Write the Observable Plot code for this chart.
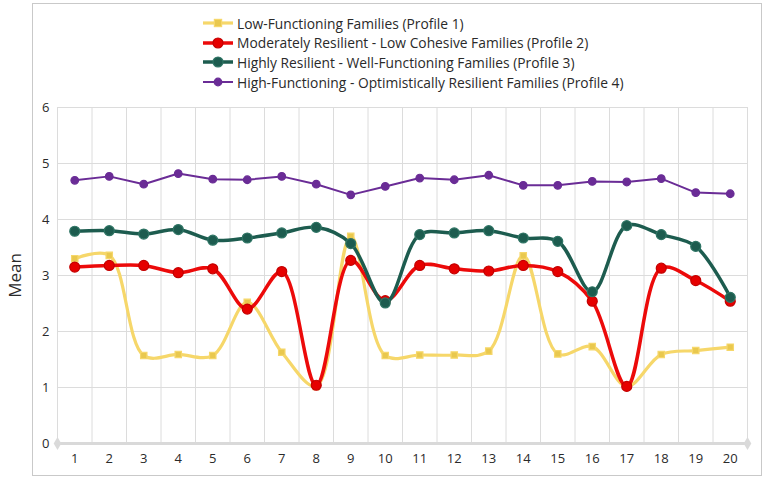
<!DOCTYPE html>
<html>
<head>
<meta charset="utf-8">
<script src="https://cdn.jsdelivr.net/npm/d3@7"></script>
<script src="https://cdn.jsdelivr.net/npm/@observablehq/plot@0.6"></script>
<style>
  body { margin: 0; background: #fff; font-family: "Open Sans", "Noto Sans", sans-serif; }
  #wrap { position: relative; width: 767px; height: 483px; overflow: hidden; }
  #frame { position: absolute; left: 32px; top: 3px; width: 730px; height: 473px; border: 1px solid #c9c9c9; box-sizing: border-box; }
  #legend { position: absolute; left: 203px; top: 13.5px; font-size: 13.8px; color: #2a2a2a; }
  .row { display: flex; align-items: center; height: 19.6px; }
  .row svg { margin-right: 4px; }
  #chart { position: absolute; left: 0; top: 0; }
  #chart g[aria-label="y-axis label"] text { font-size: 17px; }
</style>
</head>
<body>
<div id="wrap">
  <div id="frame"></div>
  <div id="chart"></div>
  <div id="legend"></div>
</div>
<script>
const items = [1,2,3,4,5,6,7,8,9,10,11,12,13,14,15,16,17,18,19,20];
const profileNames = [
  "Low-Functioning Families (Profile 1)",
  "Moderately Resilient - Low Cohesive Families (Profile 2)",
  "Highly Resilient - Well-Functioning Families (Profile 3)",
  "High-Functioning - Optimistically Resilient Families (Profile 4)"
];
const profile1 = [3.30,3.36,1.57,1.59,1.57,2.52,1.63,1.02,3.70,1.57,1.58,1.58,1.65,3.35,1.60,1.73,1.02,1.59,1.66,1.72];
const profile2 = [3.15,3.18,3.18,3.05,3.12,2.40,3.07,1.04,3.27,2.55,3.18,3.12,3.08,3.18,3.07,2.54,1.02,3.13,2.91,2.54];
const profile3 = [3.79,3.80,3.74,3.82,3.63,3.67,3.76,3.86,3.57,2.51,3.73,3.76,3.80,3.67,3.61,2.71,3.89,3.73,3.52,2.61];
const profile4 = [4.70,4.77,4.63,4.82,4.72,4.71,4.77,4.63,4.44,4.59,4.74,4.71,4.79,4.61,4.61,4.68,4.67,4.73,4.48,4.46];
const yTicks = [0,1,2,3,4,5,6];

const styles = [
  {line: "#F6D76A", fill: "#E9C84E", stroke: "#F6D76A", width: 3.2, symbol: "square", r: 3.6, curve: "catmull-rom"},
  {line: "#EC0A0A", fill: "#E60000", stroke: "#C40000", width: 3.5, symbol: "circle", r: 5, curve: "catmull-rom"},
  {line: "#1D5C4F", fill: "#1D5C4F", stroke: "#2F7565", width: 3.5, symbol: "circle", r: 5, curve: "catmull-rom"},
  {line: "#6A2C96", fill: "#6A2C96", stroke: "#6A2C96", width: 2, symbol: "circle", r: 3.8, curve: "linear"}
];
const series = [profile1, profile2, profile3, profile4];

const data = series.flatMap((vals, s) => vals.map((v, i) => ({item: items[i], value: v, s})));
const bounds = [items[0] - 0.5, ...items.map(d => d + 0.5)];

const marks = [
  Plot.ruleY(yTicks.filter(d => d > 0), {stroke: "#dcdcdc", strokeWidth: 1}),
  Plot.ruleX(bounds, {y1: 0, y2: 6, stroke: "#dcdcdc", strokeWidth: 1}),
  Plot.ruleY([0], {x1: bounds[0], x2: bounds[bounds.length - 1], stroke: "#d9d9d9", strokeWidth: 3}),
  Plot.dot([bounds[0], bounds[bounds.length - 1]], {x: d => d, y: 0, symbol: "diamond", r: 4, fill: "#dadada"})
];
series.forEach((vals, s) => {
  const st = styles[s];
  const rows = data.filter(d => d.s === s);
  marks.push(Plot.line(rows, {x: "item", y: "value", stroke: st.line, strokeWidth: st.width, curve: st.curve}));
  marks.push(Plot.dot(rows, {x: "item", y: "value", symbol: st.symbol, r: st.r, fill: st.fill, stroke: st.stroke, strokeWidth: 1.2}));
});

const chart = Plot.plot({
  width: 767,
  height: 483,
  marginLeft: 57,
  marginRight: 20,
  marginTop: 107,
  marginBottom: 40,
  style: {fontFamily: "'Open Sans', 'Noto Sans', sans-serif", fontSize: "13px", color: "#2a2a2a", background: "transparent"},
  x: {domain: [bounds[0], bounds[bounds.length - 1]], label: null},
  y: {domain: [0, 6], label: null},
  marks: [
    ...marks,
    Plot.axisX({ticks: items, tickSize: 0, tickPadding: 10, tickFormat: d => String(d), label: null, fontSize: 13}),
    Plot.axisY({ticks: yTicks, tickSize: 0, tickPadding: 8, tickFormat: d3.format("d"), label: "Mean", labelAnchor: "center", labelArrow: "none", labelOffset: 49, fontSize: 13})
  ]
});
document.getElementById("chart").appendChild(chart);

const legend = document.getElementById("legend");
profileNames.forEach((name, s) => {
  const st = styles[s];
  const row = document.createElement("div");
  row.className = "row";
  const marker = st.symbol === "square"
    ? `<rect x="${15 - st.r}" y="${7 - st.r}" width="${st.r*2}" height="${st.r*2}" fill="${st.fill}" stroke="${st.stroke}" stroke-width="1.2"/>`
    : `<circle cx="15" cy="7" r="${st.r}" fill="${st.fill}" stroke="${st.stroke}" stroke-width="1.2"/>`;
  row.innerHTML = `<svg width="30" height="14"><line x1="0" x2="30" y1="7" y2="7" stroke="${st.line}" stroke-width="${st.width}"/>${marker}</svg><span>${name}</span>`;
  legend.appendChild(row);
});
</script>
</body>
</html>
